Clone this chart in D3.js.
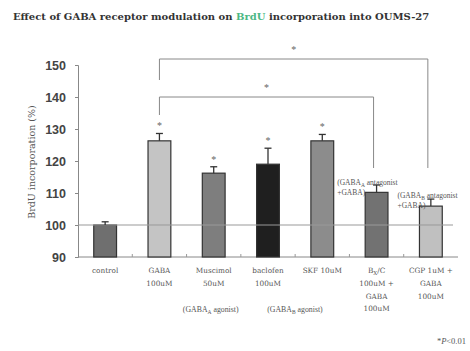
<!DOCTYPE html>
<html>
<head>
<meta charset="utf-8">
<script src="https://cdn.jsdelivr.net/npm/d3@7"></script>
<style>
  body { margin: 0; background: #fff; }
  svg { display: block; }
</style>
</head>
<body>
<svg id="chart" width="470" height="351"></svg>
<script>
// data
const groups = ["control", "GABA", "Muscimol", "baclofen", "SKF", "BxC", "CGP"];
const values = [100, 126.3, 116.2, 119, 126.3, 110.2, 105.9];
const errors = [1, 2.3, 2, 5, 2, 2.3, 2.2];
const starred = [false, true, true, true, true, false, false];
const tickLines = [
  ["control"],
  ["GABA", "100uM"],
  ["Muscimol", "50uM"],
  ["baclofen", "100uM"],
  ["SKF 10uM"],
  ["B_X/C", "100uM +", "GABA", "100uM"],
  ["CGP 1uM +", "GABA", "100uM"]
];
const yTicks = [90, 100, 110, 120, 130, 140, 150];
const barColors = ["#6f6f6f", "#c4c4c4", "#7e7e7e", "#1f1f1f", "#8c8c8c", "#727272", "#c0c0c0"];

const svg = d3.select("#chart");
const serif = "'Liberation Serif', 'DejaVu Serif', serif";
const wide = "'DejaVu Serif', serif";

const x = d3.scaleBand()
  .domain(groups)
  .range([78, 458])
  .paddingInner(0.58)
  .paddingOuter(0.29);

const y = d3.scaleLinear()
  .domain([90, 150])
  .range([257, 65]);

// title
const title = svg.append("text")
  .attr("x", 13)
  .attr("y", 20)
  .style("font-family", wide)
  .style("font-weight", "bold")
  .style("font-size", "10px")
  .attr("fill", "#333");
title.append("tspan").text("Effect of GABA receptor modulation on ");
title.append("tspan").attr("fill", "#4cb884").text("BrdU");
title.append("tspan").text(" incorporation into OUMS-27");

// y axis
const yAxis = svg.append("g")
  .attr("transform", "translate(78,0)")
  .call(d3.axisLeft(y).tickValues(yTicks).tickSize(3).tickPadding(9));
yAxis.select(".domain").attr("stroke", "#888");
yAxis.selectAll(".tick line").attr("stroke", "#888");
yAxis.selectAll("text")
  .style("font-family", "'Liberation Sans', Arial, sans-serif")
  .style("font-size", "12.5px")
  .style("font-weight", "bold")
  .attr("fill", "#444");

svg.append("text")
  .attr("transform", "translate(35,162) rotate(-90)")
  .attr("text-anchor", "middle")
  .style("font-family", wide)
  .style("font-size", "9.5px")
  .attr("fill", "#555")
  .text("BrdU incorporation (%)");

// x axis line and small ticks between groups
svg.append("line")
  .attr("x1", 78).attr("x2", 458)
  .attr("y1", y(90)).attr("y2", y(90))
  .attr("stroke", "#888");
groups.slice(1).forEach(g => {
  const bx = x(g) - x.step() * x.paddingInner() / 2;
  svg.append("line")
    .attr("x1", bx).attr("x2", bx)
    .attr("y1", y(90)).attr("y2", y(90) - 3)
    .attr("stroke", "#999");
});

// bars
const bars = svg.append("g");
bars.selectAll("rect")
  .data(groups)
  .enter()
  .append("rect")
  .attr("x", d => x(d))
  .attr("width", x.bandwidth())
  .attr("y", (d, i) => y(values[i]))
  .attr("height", (d, i) => y(90) - y(values[i]))
  .attr("fill", (d, i) => barColors[i])
  .attr("stroke", "#333")
  .attr("stroke-width", 1.2);

// reference line at 100
svg.append("line")
  .attr("x1", 78).attr("x2", 453)
  .attr("y1", y(100)).attr("y2", y(100))
  .attr("stroke", "#999")
  .attr("stroke-width", 1);

// error bars
groups.forEach((g, i) => {
  const cx = x(g) + x.bandwidth() / 2;
  svg.append("line")
    .attr("x1", cx).attr("x2", cx)
    .attr("y1", y(values[i])).attr("y2", y(values[i] + errors[i]))
    .attr("stroke", "#333").attr("stroke-width", 1.3);
  svg.append("line")
    .attr("x1", cx - 3.5).attr("x2", cx + 3.5)
    .attr("y1", y(values[i] + errors[i])).attr("y2", y(values[i] + errors[i]))
    .attr("stroke", "#333").attr("stroke-width", 1.3);
  if (starred[i]) {
    svg.append("text")
      .attr("x", cx)
      .attr("y", y(values[i] + errors[i]) - 4)
      .attr("text-anchor", "middle")
      .style("font-family", serif)
      .style("font-size", "10px")
      .attr("fill", "#666")
      .text("*");
  }
});

// significance brackets
function bracket(a, b, yTop, yLeft, yRight) {
  const x1 = x(a) + x.bandwidth() / 2;
  const x2 = x(b) + x.bandwidth() / 2 - 3;
  svg.append("path")
    .attr("d", `M${x1},${yLeft}V${yTop}H${x2}V${yRight}`)
    .attr("fill", "none")
    .attr("stroke", "#888")
    .attr("stroke-width", 1);
  svg.append("text")
    .attr("x", (x1 + x2) / 2)
    .attr("y", yTop - 6)
    .attr("text-anchor", "middle")
    .style("font-family", serif)
    .style("font-size", "10px")
    .attr("fill", "#666")
    .text("*");
}
bracket("GABA", "BxC", 97, 115, 168);
bracket("GABA", "CGP", 59, 80, 168);

// small annotations near the antagonist bars
function note(g, dx, y0, sub) {
  const t = svg.append("text")
    .attr("x", x(g) + dx)
    .attr("y", y0)
    .style("font-family", serif)
    .style("font-size", "7.5px")
    .attr("fill", "#555");
  t.append("tspan").text("(GABA");
  t.append("tspan").attr("dy", 2).style("font-size", "5.5px").text(sub);
  t.append("tspan").attr("dy", -2).text(" antagonist");
  t.append("tspan").attr("x", x(g) + dx).attr("dy", 9.5).text("+GABA)");
}
note("BxC", -28, 185, "A");
note("CGP", -22, 198, "B");

// x tick labels
groups.forEach((g, i) => {
  const cx = x(g) + x.bandwidth() / 2;
  const t = svg.append("text")
    .attr("text-anchor", "middle")
    .style("font-family", wide)
    .style("font-size", "7.3px")
    .attr("fill", "#555");
  tickLines[i].forEach((line, k) => {
    const ts = t.append("tspan").attr("x", cx).attr("y", 273 + k * 12.8);
    if (line === "B_X/C") {
      ts.text("B");
      ts.append("tspan").attr("dy", 2).style("font-size", "5.5px").text("X");
      ts.append("tspan").attr("dy", -2).text("/C");
    } else {
      ts.text(line);
    }
  });
});

// agonist notes under tick labels
function agonist(cx, sub) {
  const t = svg.append("text")
    .attr("x", cx)
    .attr("y", 312)
    .attr("text-anchor", "middle")
    .style("font-family", serif)
    .style("font-size", "7.8px")
    .attr("fill", "#555");
  t.append("tspan").text("(GABA");
  t.append("tspan").attr("dy", 2).style("font-size", "5.5px").text(sub);
  t.append("tspan").attr("dy", -2).text(" agonist)");
}
agonist(x("Muscimol") + x.bandwidth() / 2 - 3, "A");
agonist(x("baclofen") + x.bandwidth() / 2 + 27, "B");

// p value note
const pn = svg.append("text")
  .attr("x", 466)
  .attr("y", 344)
  .attr("text-anchor", "end")
  .style("font-family", serif)
  .style("font-size", "8.5px")
  .attr("fill", "#555");
pn.append("tspan").text("*");
pn.append("tspan").style("font-style", "italic").text("P");
pn.append("tspan").text("<0.01");
</script>
</body>
</html>
